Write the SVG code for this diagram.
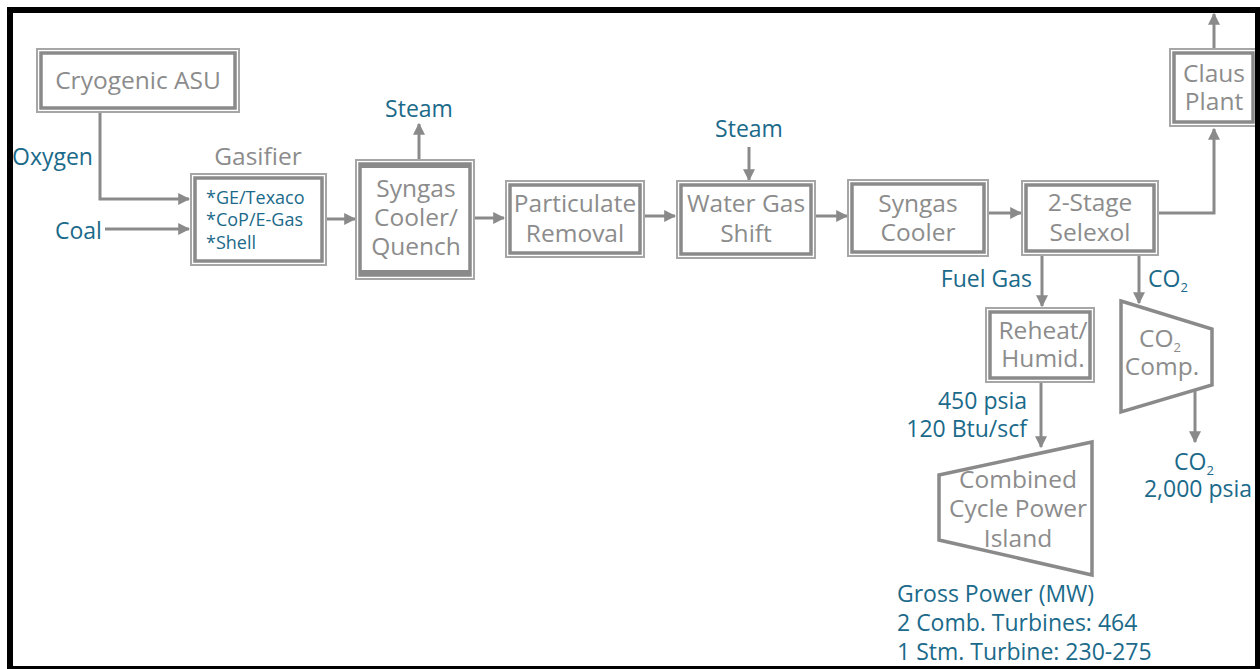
<svg xmlns="http://www.w3.org/2000/svg" width="1260" height="669" viewBox="0 0 1260 669">
<style>
.o{fill:#fff;stroke:#a6a6a6;stroke-width:2}
.i{fill:none;stroke:#8a8a8a;stroke-width:3.5}
.t{font-family:"Open Sans","Liberation Sans",sans-serif;font-size:24.5px;fill:#8c8c8c;text-anchor:middle}
.b{font-family:"Open Sans","Liberation Sans",sans-serif;font-size:23px;fill:#1b6a8a}
.s{font-family:"Open Sans","Liberation Sans",sans-serif;font-size:18px;fill:#1b6a8a}
.c{fill:none;stroke:#8a8a8a;stroke-width:3}
.tz{fill:#fff;stroke:#8a8a8a;stroke-width:3.5}
</style>
<defs>
<marker id="ar" viewBox="0 0 10 10" refX="9" refY="5" markerWidth="4" markerHeight="4" orient="auto" markerUnits="strokeWidth">
<path d="M0,0 L10,5 L0,10 Z" fill="#8a8a8a"/>
</marker>
</defs>
<rect x="0" y="0" width="1260" height="669" fill="#fff"/>

<g id="connectors">
<path class="c" d="M100,112 V199 H189" marker-end="url(#ar)"/>
<path class="c" d="M105,229 H189" marker-end="url(#ar)"/>
<path class="c" d="M327,219 H355" marker-end="url(#ar)"/>
<path class="c" d="M419,160 V124" marker-end="url(#ar)"/>
<path class="c" d="M475,218 H504" marker-end="url(#ar)"/>
<path class="c" d="M645,216 H675" marker-end="url(#ar)"/>
<path class="c" d="M749,147 V180" marker-end="url(#ar)"/>
<path class="c" d="M816,216 H847" marker-end="url(#ar)"/>
<path class="c" d="M989,213 H1021" marker-end="url(#ar)"/>
<path class="c" d="M1159,213 H1214 V129" marker-end="url(#ar)"/>
<path class="c" d="M1214,48 V14" marker-end="url(#ar)"/>
<path class="c" d="M1042,256 V306" marker-end="url(#ar)"/>
<path class="c" d="M1139,256 V303" marker-end="url(#ar)"/>
<path class="c" d="M1041,383 V447" marker-end="url(#ar)"/>
<path class="c" d="M1195,385 V442" marker-end="url(#ar)"/>
</g>

<g id="labels">
<text class="b" x="12" y="165">Oxygen</text>
<text class="b" x="55" y="239">Coal</text>
<text class="b" x="419" y="117" text-anchor="middle">Steam</text>
<text class="b" x="749" y="137" text-anchor="middle">Steam</text>
<text class="b" x="1032" y="287" text-anchor="end">Fuel Gas</text>
<text class="b" x="1148" y="287">CO<tspan font-size="13" dy="5">2</tspan></text>
<text class="b" x="1027" y="409" text-anchor="end">450 psia</text>
<text class="b" x="1027" y="437" text-anchor="end">120 Btu/scf</text>
<text class="b" x="1194" y="470" text-anchor="middle">CO<tspan font-size="13" dy="5">2</tspan></text>
<text class="b" x="1198" y="497" text-anchor="middle">2,000 psia</text>
<text class="b" x="897" y="602">Gross Power (MW)</text>
<text class="b" x="897" y="631">2 Comb. Turbines: 464</text>
<text class="b" x="897" y="660">1 Stm. Turbine: 230-275</text>
</g>

<g id="asu">
<rect class="o" x="37" y="49" width="202" height="63"/>
<rect class="i" x="41" y="53" width="194" height="55"/>
<text class="t" x="138" y="89">Cryogenic ASU</text>
</g>

<g id="gasifier">
<text class="t" x="258" y="165">Gasifier</text>
<rect class="o" x="191" y="174" width="135" height="91"/>
<rect class="i" x="195" y="178" width="127" height="83"/>
<text class="s" x="206" y="204">*GE/Texaco</text>
<text class="s" x="206" y="226">*CoP/E-Gas</text>
<text class="s" x="206" y="249">*Shell</text>
</g>

<g id="syngas-cooler-quench">
<rect class="o" x="356" y="160" width="118" height="119"/>
<rect class="i" x="360" y="164" width="110" height="111"/>
<rect x="360" y="164" width="110" height="4" fill="#8a8a8a"/>
<rect x="360" y="270" width="110" height="5" fill="#8a8a8a"/>
<text class="t" x="416" y="197">Syngas</text>
<text class="t" x="416" y="226">Cooler/</text>
<text class="t" x="416" y="255">Quench</text>
</g>

<g id="particulate">
<rect class="o" x="506" y="181" width="138" height="76"/>
<rect class="i" x="510" y="185" width="130" height="68"/>
<text class="t" x="575" y="212">Particulate</text>
<text class="t" x="575" y="242">Removal</text>
</g>

<g id="wgs">
<rect class="o" x="677" y="181" width="138" height="77"/>
<rect class="i" x="681" y="185" width="130" height="69"/>
<text class="t" x="746" y="212">Water Gas</text>
<text class="t" x="746" y="242">Shift</text>
</g>

<g id="syngas-cooler">
<rect class="o" x="848" y="180" width="140" height="76"/>
<rect class="i" x="852" y="184" width="132" height="68"/>
<text class="t" x="918" y="212">Syngas</text>
<text class="t" x="918" y="241">Cooler</text>
</g>

<g id="selexol">
<rect class="o" x="1022" y="181" width="136" height="74"/>
<rect class="i" x="1026" y="185" width="128" height="66"/>
<text class="t" x="1090" y="211">2-Stage</text>
<text class="t" x="1090" y="241">Selexol</text>
</g>

<g id="claus">
<rect class="o" x="1170" y="49" width="87" height="77"/>
<rect class="i" x="1174" y="53" width="79" height="69"/>
<text class="t" x="1214" y="82">Claus</text>
<text class="t" x="1214" y="110">Plant</text>
</g>

<g id="reheat">
<rect class="o" x="986" y="308" width="108" height="74"/>
<rect class="i" x="990" y="312" width="100" height="66"/>
<text class="t" x="1043" y="339">Reheat/</text>
<text class="t" x="1043" y="367">Humid.</text>
</g>

<g id="co2-comp">
<polygon class="tz" points="1121,301 1212,329 1212,385 1121,412"/>
<text class="t" x="1160" y="347">CO<tspan font-size="13" dy="5">2</tspan></text>
<text class="t" x="1162" y="375">Comp.</text>
</g>

<g id="ccpi">
<polygon class="tz" points="939,475 1092,442 1092,575 939,540"/>
<text class="t" x="1018" y="488">Combined</text>
<text class="t" x="1018" y="517">Cycle Power</text>
<text class="t" x="1018" y="547">Island</text>
</g>

<rect x="10" y="10" width="1248" height="659" fill="none" stroke="#000" stroke-width="6"/>
</svg>
